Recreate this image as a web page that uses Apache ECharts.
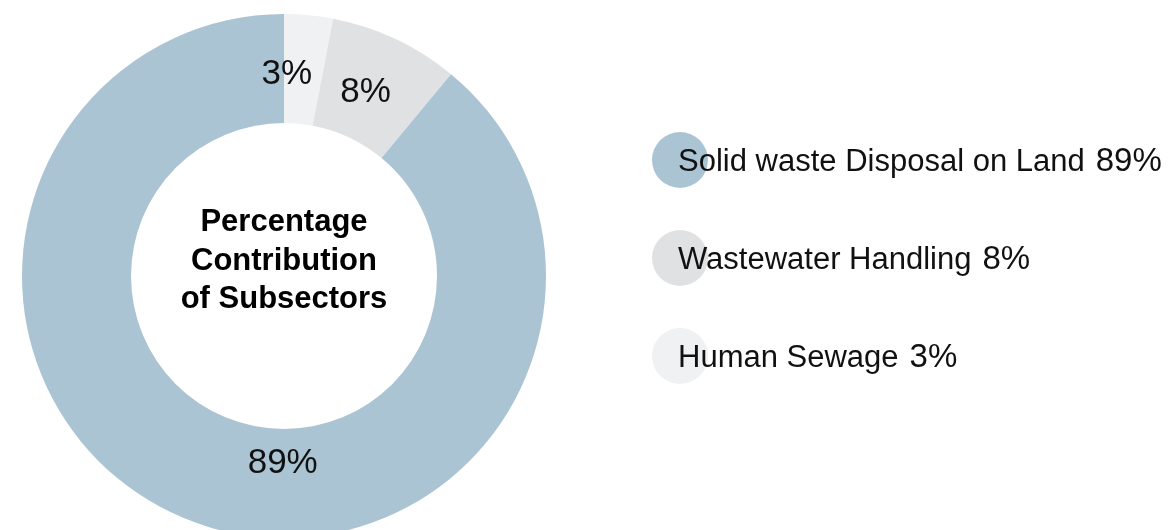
<!DOCTYPE html>
<html>
<head>
<meta charset="utf-8">
<script src="https://cdn.jsdelivr.net/npm/echarts@6/dist/echarts.min.js"></script>
<style>
  html, body { margin: 0; padding: 0; background: #ffffff; }
  #chart { width: 1175px; height: 530px; }
</style>
</head>
<body>
<div id="chart"></div>
<script>
// ---- data ----
const categories = ['Human Sewage', 'Wastewater Handling', 'Solid waste Disposal on Land'];
const shares = [3, 8, 89];
const sliceColors = ['#f0f1f3', '#e0e1e3', '#abc4d3'];
const legendOrder = ['Solid waste Disposal on Land', 'Wastewater Handling', 'Human Sewage'];
const centerTitle = ['Percentage', 'Contribution', 'of Subsectors'];

// ---- chart ----
const FONT = '"Liberation Sans", Arial, Helvetica, sans-serif';
const chart = echarts.init(document.getElementById('chart'), null, { renderer: 'canvas' });

const shareOf = {};
categories.forEach((c, i) => { shareOf[c] = shares[i]; });

const labelShift = [[-17, 8], [-8, 7], [70, -11]];

const option = {
  backgroundColor: '#ffffff',
  animation: false,
  legend: [
    {
      data: legendOrder,
      orient: 'vertical',
      left: 647,
      top: 127,
      itemWidth: 56,
      itemHeight: 56,
      itemGap: 42,
      icon: 'circle',
      formatter: () => '',
      z: 3
    },
    {
      data: legendOrder,
      orient: 'vertical',
      left: 667,
      top: 129,
      itemWidth: 1,
      itemHeight: 56,
      itemGap: 42,
      icon: 'rect',
      itemStyle: { opacity: 0 },
      z: 6,
      formatter: (name) => '{n|' + name + '}{p|' + shareOf[name] + '%}',
      textStyle: {
        rich: {
          n: { fontFamily: FONT, fontSize: 31, color: '#111111' },
          p: { fontFamily: FONT, fontSize: 33, color: '#111111', padding: [0, 0, 0, 11] }
        }
      }
    }
  ],
  graphic: [
    {
      type: 'text',
      x: 284,
      y: 261,
      z: 10,
      style: {
        text: centerTitle.join('\n'),
        fill: '#000000',
        font: 'bold 31px ' + FONT,
        lineHeight: 38.5,
        align: 'center',
        verticalAlign: 'middle'
      }
    }
  ],
  series: [
    {
      type: 'pie',
      center: [284, 276],
      radius: [153, 262],
      startAngle: 90,
      clockwise: true,
      silent: true,
      avoidLabelOverlap: false,
      itemStyle: { borderWidth: 0 },
      emphasis: { disabled: true },
      label: {
        show: true,
        position: 'inside',
        formatter: '{c}%',
        fontFamily: FONT,
        fontSize: 35,
        color: '#111111'
      },
      labelLine: { show: false },
      labelLayout: (params) => ({ dx: labelShift[params.dataIndex][0], dy: labelShift[params.dataIndex][1] }),
      data: categories.map((name, i) => ({
        name: name,
        value: shares[i],
        itemStyle: { color: sliceColors[i] }
      }))
    }
  ]
};

chart.setOption(option);
</script>
</body>
</html>
